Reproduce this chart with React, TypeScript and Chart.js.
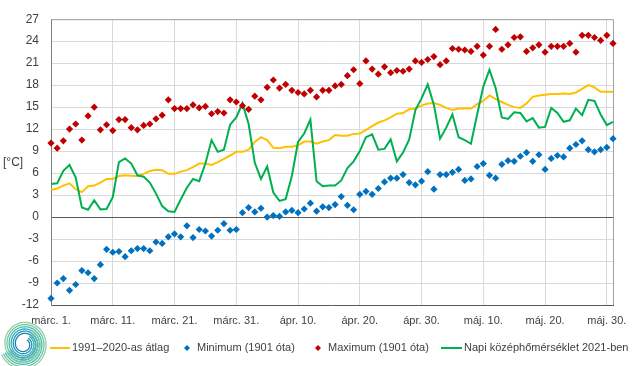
import React, { useEffect, useRef } from "react";
import { Chart, registerables } from "chart.js";
Chart.register(...registerables);

const months: [string, number][] = [["márc.", 31], ["ápr.", 30], ["máj.", 31]];
const categories: string[] = months.flatMap(([m, n]) =>
  Array.from({ length: n }, (_, i) => `${m} ${i + 1}.`)
);
const tickLabels = ["márc. 1.", "márc. 11.", "márc. 21.", "márc. 31.", "ápr. 10.", "ápr. 20.", "ápr. 30.", "máj. 10.", "máj. 20.", "máj. 30."];

const avg1991_2020 = [
  3.7, 3.9, 4.3, 4.6, 3.8, 3.4, 4.2, 4.3, 4.7, 5.2, 5.2, 5.6, 5.7, 5.65, 5.6, 5.9, 6.3, 6.45, 6.4, 5.9, 5.9, 6.2, 6.4,
  6.8, 7.3, 7.3, 7.1, 7.5, 7.95, 8.4, 8.9, 8.9, 9.2, 10.25, 10.9, 10.5, 9.45, 9.4, 9.6, 9.6, 9.8, 10.3, 10.3, 10.0, 10.3, 10.5,
  11.2, 11.1, 11.1, 11.35, 11.4, 11.9, 12.4, 12.9, 13.2, 13.6, 14.1, 14.2, 14.7, 14.8, 15.2, 15.5, 15.55, 15.3, 14.9, 14.6, 14.8, 14.85,
  14.8, 15.4, 15.85, 16.6, 16.1, 15.7, 15.3, 15.0, 14.9, 15.5, 16.4, 16.6, 16.7, 16.8, 16.8, 16.85, 16.8, 17.0, 17.5, 18.0, 17.7, 17.1, 17.1, 17.1,
];
const minimum1901 = [
  -11.1, -9.0, -8.4, -10.0, -9.2, -7.3, -7.6, -8.4, -6.5, -4.4, -4.8, -4.7, -5.4, -4.6, -4.3, -4.3, -4.6, -3.4, -3.6, -2.7, -2.3, -2.7, -1.2,
  -2.8, -1.7, -1.9, -2.6, -1.8, -0.9, -1.8, -1.7, 0.6, 1.3, 0.7, 1.2, 0.0, 0.2, 0.1, 0.7, 0.9, 0.6, 1.1, 1.9, 0.8, 1.4, 1.3,
  1.7, 2.8, 1.6, 1.0, 3.1, 3.5, 3.1, 3.9, 4.8, 5.3, 5.3, 5.8, 4.7, 4.4, 4.9, 6.2, 3.8, 5.8, 5.8, 6.1, 6.5, 5.0,
  5.2, 6.9, 7.3, 5.7, 5.3, 7.2, 7.7, 7.6, 8.3, 8.8, 7.6, 8.5, 6.5, 8.0, 8.4, 8.2, 9.4, 9.9, 10.4, 9.2, 8.9, 9.2, 9.5, 10.7,
];
const maximum1901 = [
  10.1, 9.4, 10.4, 12.0, 12.7, 10.5, 13.8, 15.0, 11.9, 12.6, 11.8, 13.3, 13.3, 12.2, 11.9, 12.5, 12.7, 13.4, 13.9, 16.0, 14.8, 14.8, 14.8,
  15.3, 14.9, 15.1, 14.1, 14.4, 14.2, 16.0, 15.7, 15.2, 14.7, 16.5, 16.0, 17.7, 18.7, 17.6, 18.1, 17.3, 17.0, 16.8, 17.3, 16.4, 17.3, 17.3,
  17.9, 18.1, 19.3, 20.1, 18.2, 21.3, 20.2, 19.5, 20.5, 19.7, 20.0, 19.9, 20.2, 21.3, 21.1, 21.5, 21.9, 20.8, 21.3, 23.0, 22.9, 22.8,
  22.6, 23.3, 22.1, 23.3, 25.6, 22.9, 23.5, 24.5, 24.6, 22.6, 23.1, 23.5, 22.5, 23.3, 23.3, 23.3, 23.7, 22.5, 24.8, 24.8, 24.5, 24.1, 24.8, 23.7,
];
const daily2021 = [
  4.5, 4.6, 6.3, 7.1, 5.4, 1.3, 1.0, 2.3, 1.05, 1.1, 2.7, 7.5, 8.0, 7.3, 5.7, 5.5, 4.7, 3.2, 1.5, 0.8, 0.7, 2.4, 4.0,
  5.2, 4.9, 7.3, 10.5, 8.9, 9.2, 12.6, 13.6, 15.5, 12.7, 7.4, 5.2, 6.9, 3.35, 2.2, 2.45, 5.6, 10.25, 11.4, 13.3, 4.9, 4.2, 4.3,
  4.3, 5.0, 6.7, 7.6, 9.0, 10.9, 11.3, 9.2, 9.3, 10.6, 7.6, 8.8, 10.6, 14.6, 16.2, 18.1, 15.3, 10.7, 12.2, 14.0, 10.9, 10.5,
  10.0, 14.0, 17.8, 20.1, 17.6, 13.6, 13.4, 14.3, 14.2, 13.05, 13.5, 12.2, 12.3, 14.9, 14.2, 13.0, 13.2, 14.8, 13.9, 16.0, 15.85, 14.0, 12.55, 13.0,
];

const seriesNames = ["1991–2020-as átlag", "Minimum (1901 óta)", "Maximum (1901 óta)", "Napi középhőmérséklet 2021-ben"];
const colors = { avg: "#ffc000", min: "#0070c0", max: "#c00000", daily: "#00b050" };
const FONT = "'Liberation Sans', Arial, sans-serif";

const extras = {
  id: "extras",
  beforeDatasetsDraw(chart: any) {
    const { ctx, chartArea: a } = chart;
    ctx.save();
    ctx.strokeStyle = "#a0a0a0";
    ctx.lineWidth = 1;
    ctx.beginPath();
    ctx.moveTo(a.left, a.top + 0.5);
    ctx.lineTo(a.right + 0.5, a.top + 0.5);
    ctx.lineTo(a.right + 0.5, a.bottom);
    ctx.stroke();
    ctx.restore();
  },
  afterDraw(chart: any) {
    const { ctx } = chart;
    ctx.save();
    ctx.fillStyle = "#404040";
    ctx.font = `12px ${FONT}`;
    ctx.textBaseline = "middle";
    ctx.textAlign = "left";
    ctx.fillText("[°C]", 3, 163);

    // legend
    const ly = 348;
    ctx.font = `11px ${FONT}`;
    const drawLine = (x1: number, x2: number, c: string) => {
      ctx.strokeStyle = c; ctx.lineWidth = 2;
      ctx.beginPath(); ctx.moveTo(x1, ly); ctx.lineTo(x2, ly); ctx.stroke();
    };
    const drawDiamond = (x: number, c: string) => {
      ctx.fillStyle = c;
      ctx.beginPath();
      ctx.moveTo(x, ly - 3); ctx.lineTo(x + 3, ly); ctx.lineTo(x, ly + 3); ctx.lineTo(x - 3, ly);
      ctx.closePath(); ctx.fill();
    };
    drawLine(50, 70, colors.avg);
    ctx.fillStyle = "#404040"; ctx.fillText(seriesNames[0], 72, ly);
    drawDiamond(187, colors.min);
    ctx.fillStyle = "#404040"; ctx.fillText(seriesNames[1], 197, ly);
    drawDiamond(318, colors.max);
    ctx.fillStyle = "#404040"; ctx.fillText(seriesNames[2], 328, ly);
    drawLine(441, 462, colors.daily);
    ctx.fillStyle = "#404040"; ctx.fillText(seriesNames[3], 464, ly);

    // logo spiral (decorative)
    const cx = 24, cy = 344;
    const tones = ["#1b7fb0", "#2196b8", "#32aab8", "#4bb9b0", "#6ac6a6", "#8fd19f"];
    tones.forEach((c, k) => {
      ctx.strokeStyle = c; ctx.lineWidth = 1.3;
      ctx.beginPath();
      for (let t = 0; t <= 1; t += 0.01) {
        const ang = -Math.PI * 0.3 + t * Math.PI * 3.2;
        const r = 5 + k * 2.2 + t * 10;
        const x = cx + r * Math.cos(ang) * 0.95;
        const y = cy + r * Math.sin(ang);
        if (t === 0) ctx.moveTo(x, y); else ctx.lineTo(x, y);
      }
      ctx.stroke();
    });
    ctx.restore();
  },
};

export default function App() {
  const ref = useRef<HTMLCanvasElement | null>(null);
  useEffect(() => {
    if (!ref.current) return;
    const pt = { pointStyle: "rectRot", pointRadius: 3.6, pointBorderWidth: 0, showLine: false, clip: false };
    const chart = new Chart(ref.current, {
      type: "line",
      data: {
        labels: categories,
        datasets: [
          { label: seriesNames[0], data: avg1991_2020, borderColor: colors.avg, borderWidth: 2, pointRadius: 0, order: 4 },
          { label: seriesNames[1], data: minimum1901, backgroundColor: colors.min, borderColor: colors.min, ...pt, order: 1 } as any,
          { label: seriesNames[2], data: maximum1901, backgroundColor: colors.max, borderColor: colors.max, ...pt, order: 2 } as any,
          { label: seriesNames[3], data: daily2021, borderColor: colors.daily, borderWidth: 2, pointRadius: 0, order: 3 },
        ],
      },
      options: {
        animation: false,
        responsive: false,
        events: [],
        layout: { padding: { top: 17, right: 27, bottom: 33, left: 0 } },
        plugins: { legend: { display: false }, tooltip: { enabled: false } },
        scales: {
          x: {
            type: "category",
            offset: false,
            grid: { color: "#d9d9d9", drawTicks: false, offset: false },
            border: { color: "#595959" },
            ticks: {
              autoSkip: false, maxRotation: 0, minRotation: 0, padding: 9,
              color: "#404040", font: { family: FONT, size: 11 },
              callback: (_v: any, i: number) => (tickLabels.includes(categories[i]) ? categories[i] : null),
            },
            afterFit: (s: any) => { s.height = 28; },
          },
          y: {
            min: -12, max: 27,
            ticks: { stepSize: 3, padding: 12, color: "#404040", font: { family: FONT, size: 12 } },
            grid: { color: (c: any) => (c.tick && c.tick.value === 0 ? "#595959" : "#d9d9d9"), drawTicks: false },
            border: { color: "#808080" },
            afterFit: (s: any) => { s.width = 51; },
          },
        },
      } as any,
      plugins: [extras],
    });
    return () => chart.destroy();
  }, []);
  return (
    <div style={{ position: "absolute", left: 0, top: 0, width: 640, height: 366, background: "#fff" }}>
      <canvas ref={ref} width={640} height={366} style={{ width: 640, height: 366, display: "block" }} />
    </div>
  );
}
